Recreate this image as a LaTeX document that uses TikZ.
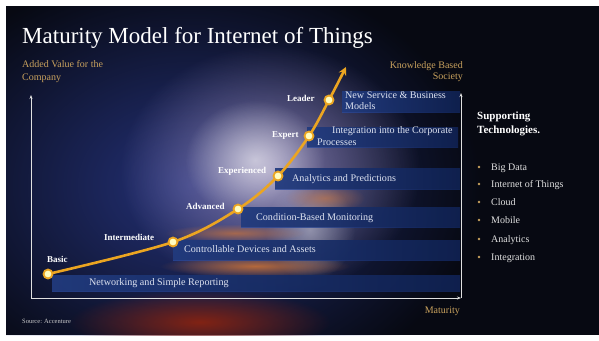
\documentclass[tikz,border=0pt]{standalone}
\usepackage{fontspec}
\setmainfont{Liberation Serif}
\usetikzlibrary{arrows.meta,fadings}
\tikzfading[name=glowfade, inner color=transparent!0, outer color=transparent!100]
\definecolor{bg}{HTML}{070912}
\definecolor{gold}{HTML}{C9A25E}
\definecolor{curvecol}{HTML}{EBA521}
\definecolor{bandleft}{HTML}{2A4A9E}
\definecolor{bandright}{HTML}{142A66}
\definecolor{bandtext}{HTML}{DDE2F0}
\definecolor{navyglow}{HTML}{26347E}
\definecolor{lavglow}{HTML}{A596C4}
\definecolor{redglow}{HTML}{8E2410}
\definecolor{orangeglow}{HTML}{E07A30}
\begin{document}
\begin{tikzpicture}[x=1pt,y=-1pt,
  bandbox/.style={left color=bandleft,right color=bandright,fill opacity=0.75,draw=none},
  bandlabel/.style={text=bandtext,font=\fontsize{10.1}{11}\selectfont,anchor=base west,inner sep=0},
  stagelabel/.style={text=white,font=\bfseries\fontsize{9}{10}\selectfont,anchor=base west,inner sep=0},
  stagedot/.style={circle,fill=yellow!25,draw=curvecol,line width=1.8pt,minimum size=9pt,inner sep=0},
  axisline/.style={draw=white!88!black,line width=1pt,-{Stealth[length=4pt,width=3pt]}},
  goldlabel/.style={text=gold,font=\fontsize{10}{11}\selectfont,inner sep=0},
  techitem/.style={text=white!88!black,font=\fontsize{10}{11}\selectfont,anchor=base west,inner sep=0},
  glow/.style={path fading=glowfade},
]
\useasboundingbox (0,0) rectangle (599,340);
\fill[white] (0,0) rectangle (599,340);
\fill[bg] (6,6) rectangle (599,335);
\begin{scope}
\clip (6,6) rectangle (599,335);
\fill[navyglow,glow,opacity=0.95] (190,185) ellipse [x radius=290, y radius=220];
\fill[lavglow,glow,opacity=0.75] (270,170) ellipse [x radius=150, y radius=125];
\fill[white,glow,opacity=0.6] (255,160) ellipse [x radius=70, y radius=60];
\fill[white,glow,opacity=0.4] (310,230) ellipse [x radius=45, y radius=50];
\fill[redglow,glow,opacity=0.9] (200,322) ellipse [x radius=130, y radius=32];
\fill[orangeglow,glow,opacity=0.75] (255,266) ellipse [x radius=95, y radius=11];
\fill[orangeglow,glow,opacity=0.6] (235,233) ellipse [x radius=70, y radius=9];
\fill[orangeglow,glow,opacity=0.5] (325,198) ellipse [x radius=40, y radius=14];
\end{scope}
% title
\node[anchor=base west,inner sep=0,text=white,font=\fontsize{23}{26}\selectfont] (title) at (22,43) {Maturity Model for Internet of Things};
% bands
\fill[bandbox] (52,275) rectangle (460,291);
\fill[bandbox] (173,240) rectangle (460,260);
\fill[bandbox] (241,207) rectangle (460,227);
\fill[bandbox] (275,168) rectangle (460,189);
\fill[bandbox] (307,127) rectangle (458,147);
\fill[bandbox] (342,91) rectangle (460,112);
\node[bandlabel] (b1) at (89,285) {Networking and Simple Reporting};
\node[bandlabel] (b2) at (184,252) {Controllable Devices and Assets};
\node[bandlabel] (b3) at (256,220) {Condition-Based Monitoring};
\node[bandlabel] (b4) at (292,181) {Analytics and Predictions};
\node[bandlabel] (b5a) at (332,133) {Integration into the Corporate};
\node[bandlabel] (b5b) at (317,145) {Processes};
\node[bandlabel] (b6a) at (345,98) {New Service \& Business};
\node[bandlabel] (b6b) at (345,109) {Models};
% axes
\coordinate (o) at (31,298);
\coordinate (ytop) at (31,95);
\coordinate (xend) at (461,298);
\coordinate (rtop) at (461,93);
\draw[axisline] (o) -- (ytop);
\draw[axisline] (o) -- (xend);
\draw[axisline] (xend) -- (rtop);
% axis labels
\node[goldlabel,anchor=base west] (yl1) at (22,67) {Added Value for the};
\node[goldlabel,anchor=base west] (yl2) at (22,80) {Company};
\node[goldlabel,anchor=base east] (kl1) at (463,68) {Knowledge Based};
\node[goldlabel,anchor=base east] (kl2) at (463,79) {Society};
\node[goldlabel,anchor=base east] (mat) at (460,313) {Maturity};
\node[anchor=base west,inner sep=0,text=white!80!black,font=\fontsize{6.5}{7}\selectfont] (src) at (22,323) {Source: Accenture};
% curve
\coordinate (p1) at (48,274);
\coordinate (p2) at (173,242);
\coordinate (p3) at (238,209);
\coordinate (p4) at (278,176);
\coordinate (p5) at (309,136);
\coordinate (p6) at (329,100);
\coordinate (tip) at (346,67);
\draw[curvecol,line width=2.6pt,-{Stealth[length=8pt,width=8pt]}] plot[smooth,tension=0.55] coordinates {(p1) (p2) (p3) (p4) (p5) (p6) (tip)};
\node[stagedot] (d1) at (p1) {};
\node[stagedot] (d2) at (p2) {};
\node[stagedot] (d3) at (p3) {};
\node[stagedot] (d4) at (p4) {};
\node[stagedot] (d5) at (p5) {};
\node[stagedot] (d6) at (p6) {};
\node[stagelabel] (s1) at (47,262) {Basic};
\node[stagelabel] (s2) at (104,240) {Intermediate};
\node[stagelabel] (s3) at (186,209) {Advanced};
\node[stagelabel] (s4) at (218,173) {Experienced};
\node[stagelabel] (s5) at (272,137) {Expert};
\node[stagelabel] (s6) at (287,101) {Leader};
% supporting technologies
\node[anchor=base west,inner sep=0,text=white,font=\bfseries\fontsize{11}{12}\selectfont] (st1) at (477,119) {Supporting};
\node[anchor=base west,inner sep=0,text=white,font=\bfseries\fontsize{11}{12}\selectfont] (st2) at (477,133) {Technologies.};
\foreach \t/\yy [count=\i] in {Big Data/170,Internet of Things/187,Cloud/205,Mobile/223,Analytics/242,Integration/260}{
  \fill[gold] (479,\yy-3) circle (1.3pt);
  \node[techitem] (tech\i) at (491,\yy) {\t};
}
\end{tikzpicture}
\end{document}
